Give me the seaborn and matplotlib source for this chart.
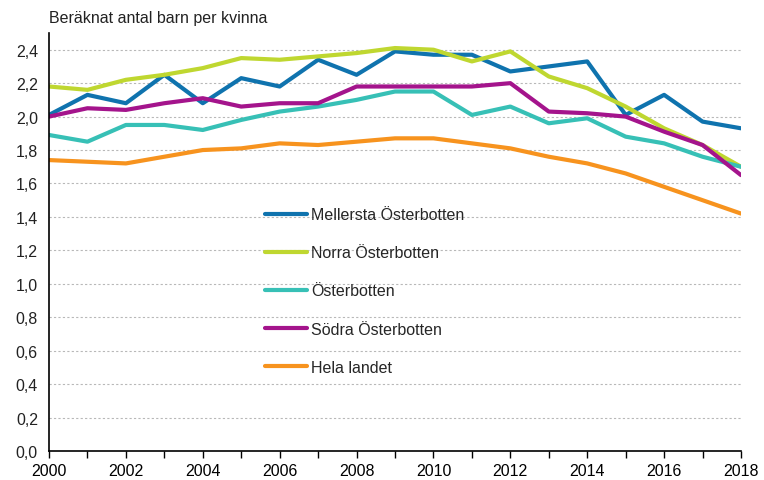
import matplotlib
matplotlib.use("Agg")
import matplotlib.pyplot as plt
import seaborn as sns
import pandas as pd

years = list(range(2000, 2019))
mellersta = [2.01, 2.13, 2.08, 2.25, 2.08, 2.23, 2.18, 2.34, 2.25, 2.39, 2.37, 2.37, 2.27, 2.30, 2.33, 2.01, 2.13, 1.97, 1.93]
norra = [2.18, 2.16, 2.22, 2.25, 2.29, 2.35, 2.34, 2.36, 2.38, 2.41, 2.40, 2.33, 2.39, 2.24, 2.17, 2.06, 1.93, 1.83, 1.70]
osterbotten = [1.89, 1.85, 1.95, 1.95, 1.92, 1.98, 2.03, 2.06, 2.10, 2.15, 2.15, 2.01, 2.06, 1.96, 1.99, 1.88, 1.84, 1.76, 1.70]
sodra = [2.00, 2.05, 2.04, 2.08, 2.11, 2.06, 2.08, 2.08, 2.18, 2.18, 2.18, 2.18, 2.20, 2.03, 2.02, 2.00, 1.91, 1.83, 1.65]
hela = [1.74, 1.73, 1.72, 1.76, 1.80, 1.81, 1.84, 1.83, 1.85, 1.87, 1.87, 1.84, 1.81, 1.76, 1.72, 1.66, 1.58, 1.50, 1.42]

series_names = ["Mellersta Österbotten", "Norra Österbotten", "Österbotten", "Södra Österbotten", "Hela landet"]
series_values = [mellersta, norra, osterbotten, sodra, hela]
colors = ["#0f73ae", "#bfd730", "#37c0b6", "#a4148c", "#f7931e"]

rows = []
for name, vals in zip(series_names, series_values):
    for y, v in zip(years, vals):
        rows.append({"År": y, "Värde": v, "Serie": name})
df = pd.DataFrame(rows)

sns.set_theme(style="white")
plt.rcParams["font.family"] = ["Liberation Sans", "DejaVu Sans"]

fig = plt.figure(figsize=(7.64, 4.81), dpi=100)
ax = fig.add_axes([49/764, 1-452/481, (741-49)/764, (452-34)/481])

sns.lineplot(data=df, x="År", y="Värde", hue="Serie", hue_order=series_names,
             palette=colors, linewidth=3, ax=ax, legend=True)

ax.set_xlim(2000, 2018)
ax.set_ylim(0, 2.5)
ax.set_xticks(list(range(2000, 2019, 2)))
ax.set_xticks(years, minor=True)
ax.set_yticks([i/10 for i in range(0, 25, 2)])
ax.set_yticklabels([f"{i/10:.1f}".replace(".", ",") for i in range(0, 25, 2)])
ax.set_xlabel("")
ax.set_ylabel("")
ax.tick_params(axis="both", labelsize=11.5, colors="#222222")
ax.tick_params(axis="x", which="both", direction="out", length=5, width=1, color="black", bottom=True)
ax.tick_params(axis="y", length=0, pad=8)
for t in ax.get_xticklabels():
    t.set_color("black")
ax.grid(axis="y", color="#b8b8b8", linestyle=(0, (2, 2)), linewidth=0.8)
ax.set_axisbelow(True)
for s in ["top", "right"]:
    ax.spines[s].set_visible(False)
for s in ["left", "bottom"]:
    ax.spines[s].set_color("black")
    ax.spines[s].set_linewidth(1.2)

leg = ax.legend(loc="center left", bbox_to_anchor=((265-49)/692, (452-292)/418),
                frameon=False, fontsize=11.5, handlelength=2.6, handletextpad=0.3,
                labelspacing=1.45, borderpad=0, borderaxespad=0)
for line in leg.get_lines():
    line.set_linewidth(3)

fig.text(49/764, 1-18/481, "Beräknat antal barn per kvinna", fontsize=11.5,
         ha="left", va="center", color="#222222")

fig.savefig("out.png", dpi=100)
